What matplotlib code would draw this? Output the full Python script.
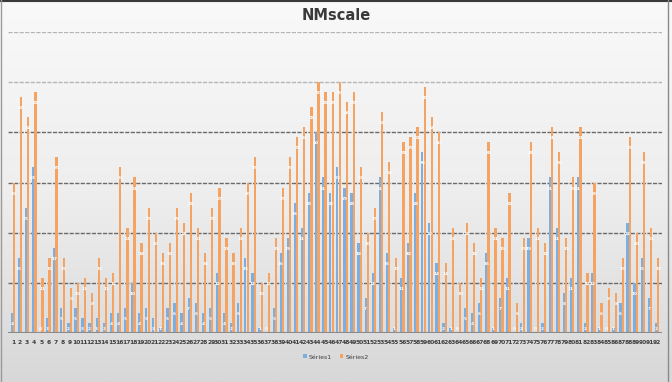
import matplotlib
matplotlib.use("Agg")
import matplotlib.pyplot as plt
import numpy as np
from matplotlib.colors import LinearSegmentedColormap

categories = [str(i) for i in range(1, 93)]

series1 = [4, 15, 25, 33, 0, 3, 17, 5, 2, 5, 3, 2, 3, 2, 4, 4, 5, 10, 4, 5,
           3, 1, 5, 6, 4, 7, 6, 4, 5, 12, 4, 2, 6, 15, 12, 1, 0, 5, 16, 19,
           26, 21, 28, 40, 31, 28, 33, 29, 28, 18, 7, 12, 31, 16, 1, 11, 18, 28, 36, 22,
           14, 2, 1, 0, 5, 4, 6, 16, 1, 7, 11, 0, 2, 19, 0, 2, 31, 21, 8, 11,
           31, 2, 12, 1, 0, 1, 6, 22, 10, 15, 7, 2]

series2 = [30, 47, 43, 48, 11, 15, 35, 15, 9, 10, 11, 8, 15, 11, 12, 33, 21, 31, 18, 25,
           20, 16, 18, 25, 22, 28, 21, 16, 25, 29, 19, 16, 21, 30, 35, 10, 12, 19, 29, 35,
           39, 41, 45, 50, 48, 48, 50, 46, 48, 33, 20, 25, 44, 34, 15, 38, 39, 41, 49, 43,
           40, 14, 21, 10, 22, 18, 11, 38, 21, 19, 28, 6, 19, 38, 21, 18, 41, 36, 19, 31,
           41, 12, 30, 6, 9, 8, 15, 39, 20, 36, 21, 15]

series_names = ["Séries1", "Séries2"]
title = "NMscale"

W, H = 672, 382
fig = plt.figure(figsize=(W / 100, H / 100), dpi=100)

# background gradient
bg = fig.add_axes([0, 0, 1, 1], zorder=0)
cmap = LinearSegmentedColormap.from_list("bg", ["#f9f9f9", "#eeeeee", "#d8d8d8"])
grad = np.linspace(0, 1, 256).reshape(-1, 1)
bg.imshow(grad, aspect="auto", cmap=cmap, extent=[0, 1, 0, 1], origin="upper")
bg.set_xlim(0, 1)
bg.set_ylim(0, 1)
bg.axis("off")
# frame
bg.plot([0, 1], [0.998, 0.998], color="#3a3a3a", lw=1.5, transform=bg.transAxes)
bg.plot([0.002, 0.002], [0, 1], color="#9a9a9a", lw=1.0, transform=bg.transAxes)
bg.plot([0.994, 0.994], [0, 1], color="#8a8a8a", lw=1.0, transform=bg.transAxes)

left, right = 8 / W, 662 / W
bottom, top = (H - 333) / H, (H - 32) / H
ax = fig.add_axes([left, bottom, right - left, top - bottom], zorder=1)
ax.set_facecolor("none")

x = np.arange(1, len(categories) + 1)
bw = 0.32
blue = "#7DAEE0"
orange = "#F5A363"
b1 = ax.bar(x - 0.17, series1, width=bw, color=blue, zorder=3, label=series_names[0])
b2 = ax.bar(x + 0.17, series2, width=bw, color=orange, zorder=3, label=series_names[1])

for bars, vals in ((b1, series1), (b2, series2)):
    for rect, v in zip(bars, vals):
        ax.text(rect.get_x() + rect.get_width() / 2, max(v - 2.2, 0.8), str(v),
                ha="center", va="center", fontsize=3.1, color="white",
                fontweight="bold", zorder=4)

ax.set_xlim(0.3, 92.7)
ax.set_ylim(0, 60)
for yv in range(10, 61, 10):
    c = "#b5b5b5" if yv >= 50 else "#6a6a6a"
    ax.axhline(yv, color=c, lw=1.0, ls=(0, (3, 1)), zorder=1)
ax.axhline(0, color="#8a8a8a", lw=2.2, zorder=5)

ax.set_yticks([])
ax.set_xticks(x)
ax.set_xticklabels(categories, fontsize=4.3, color="#404040", fontweight="bold")
ax.tick_params(axis="x", length=0, pad=5)
for s in ax.spines.values():
    s.set_visible(False)

fig.text(0.5, 1 - 15 / H, title, ha="center", va="center", fontsize=10.5,
         fontweight="bold", color="#3a3a3a")

leg = fig.legend(handles=[b1, b2], labels=series_names, loc="center",
                 bbox_to_anchor=(336 / W, 1 - 357 / H), ncol=2, frameon=False,
                 fontsize=4.5, handlelength=0.6, handleheight=0.6,
                 handletextpad=0.4, columnspacing=1.2)
for t in leg.get_texts():
    t.set_color("#404040")

fig.savefig("out.png", dpi=100)
